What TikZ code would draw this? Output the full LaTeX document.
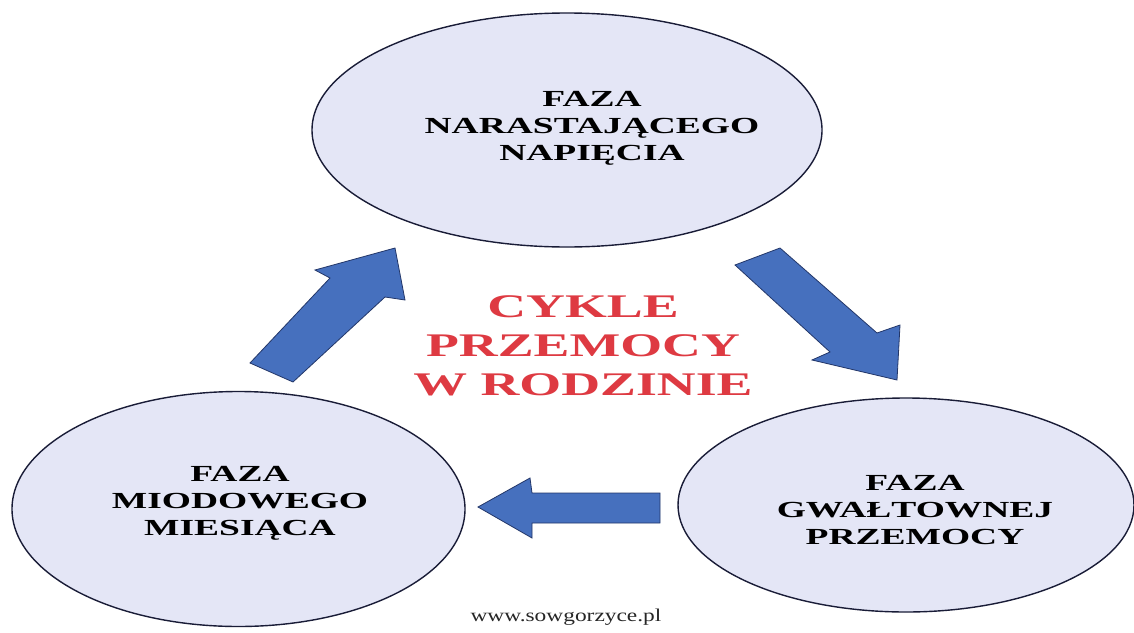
\documentclass[tikz,border=0pt]{standalone}
\usepackage{fontspec}
\usetikzlibrary{shapes.geometric}
\newfontfamily\capfont[FakeStretch=1.63]{Liberation Serif}
\newfontfamily\urlfont[FakeStretch=1.3]{Liberation Serif}
\definecolor{ellfill}{RGB}{228,230,246}
\definecolor{ellline}{RGB}{25,28,55}
\definecolor{arrfill}{RGB}{70,112,190}
\definecolor{arrline}{RGB}{35,55,105}
\definecolor{titlered}{RGB}{222,58,66}
\tikzset{
  phase/.style={ellipse, draw=ellline, line width=1.4pt, fill=ellfill, inner sep=0pt},
  phasetext/.style={align=center, font=\capfont\bfseries\fontsize{23}{27}\selectfont, text=black},
  blockarrow/.style={fill=arrfill, draw=arrline, line width=0.8pt, line join=miter},
}
\begin{document}
\begin{tikzpicture}[x=1pt,y=-1pt]
\fill[white] (0,0) rectangle (1134,632);
\useasboundingbox (0,0) rectangle (1134,632);

% ellipses
\node[phase, minimum width=510pt, minimum height=234pt] (top) at (567,130) {};
\node[phase, minimum width=453pt, minimum height=235pt] (left) at (238.5,509) {};
\node[phase, minimum width=456pt, minimum height=214pt] (right) at (906,505) {};

% phase labels
\node[phasetext] (toplbl) at (592,128) {FAZA\\NARASTAJĄCEGO\\NAPIĘCIA};
\node[phasetext] (leftlbl) at (240,503) {FAZA\\MIODOWEGO\\MIESIĄCA};
\node[phasetext] (rightlbl) at (915,510) {FAZA\\GWAŁTOWNEJ\\PRZEMOCY};

% block arrows
\draw[blockarrow] (250,363) coordinate (a1t1) -- (330,278) -- (315,270) -- (395,248) coordinate (a1tip)
  -- (405,300) -- (385,297) -- (293,382) coordinate (a1t2) -- cycle;
\draw[blockarrow] (735,265) coordinate (a2t1) -- (780,248) coordinate (a2t2) -- (877,333) -- (900,325)
  -- (897,380) coordinate (a2tip) -- (812,360) -- (830,352) -- cycle;
\draw[blockarrow] (478,507) coordinate (a3tip) -- (530,478) -- (532,493) -- (660,493) coordinate (a3t1)
  -- (660,523) coordinate (a3t2) -- (532,523) -- (532,538) -- cycle;

% title
\node[align=center, font=\capfont\bfseries\fontsize{33}{39}\selectfont, text=titlered] (title) at (583,346)
  {CYKLE\\PRZEMOCY\\W RODZINIE};

% footer
\node[font=\urlfont\fontsize{18}{20}\selectfont, text=black!85] (url) at (566,617) {www.sowgorzyce.pl};
\end{tikzpicture}
\end{document}
